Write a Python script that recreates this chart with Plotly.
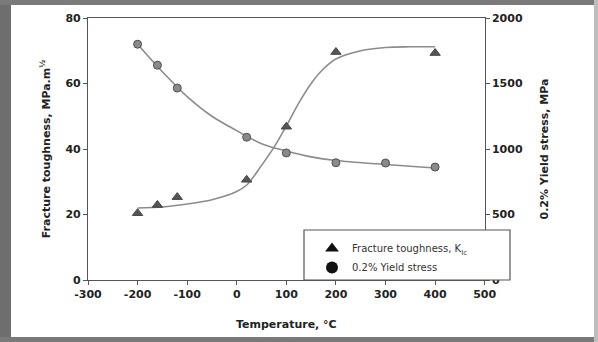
"""
Fracture toughness and 0.2% yield stress versus temperature.
"""

import plotly.graph_objects as go
from plotly.subplots import make_subplots

# Measured points
temp_pts = [-200, -160, -120, 20, 100, 200, 400]
toughness_pts = [20.4, 22.9, 25.3, 30.6, 46.8, 69.6, 69.3]

yield_temp_pts = [-200, -160, -120, 20, 100, 200, 300, 400]
yield_pts = [1800, 1640, 1465, 1090, 970, 895, 893, 862]

# Fitted curves
fit_temp = [-200, -150, -100, -50, 0, 20, 50, 75, 100, 125, 150, 175, 200, 250, 300, 350, 400]
toughness_fit = [22, 22.3, 23.2, 24.5, 27, 29, 35, 40.5, 47, 54, 60, 64.5, 67.5, 70, 71, 71.2, 71.2]

yield_fit_temp = [-200, -150, -100, -50, 0, 50, 100, 150, 200, 300, 400]
yield_fit = [1800, 1590, 1400, 1250, 1140, 1040, 985, 940, 912, 882, 855]

x_ticks = [-300, -200, -100, 0, 100, 200, 300, 400, 500]
x_ticktext = ["-300", "-200", "-100", "0", "100", "200", "300", "400", "500"]

FONT = "DejaVu Sans"
CURVE = "#8c8c8c"

fig = make_subplots(specs=[[{"secondary_y": True}]])

# Courbes lissées
fig.add_trace(
    go.Scatter(x=fit_temp, y=toughness_fit, mode="lines", line=dict(color=CURVE, width=1.6, shape="spline"),
               showlegend=False, hoverinfo="skip"),
    secondary_y=False
)
fig.add_trace(
    go.Scatter(x=yield_fit_temp, y=yield_fit, mode="lines", line=dict(color=CURVE, width=1.6, shape="spline"),
               showlegend=False, hoverinfo="skip"),
    secondary_y=True
)

# Points mesurés
fig.add_trace(
    go.Scatter(x=temp_pts, y=toughness_pts, mode="markers", showlegend=False,
               marker=dict(symbol="triangle-up", size=9, color="#555555", line=dict(color="#444444", width=1))),
    secondary_y=False
)
fig.add_trace(
    go.Scatter(x=yield_temp_pts, y=yield_pts, mode="markers", showlegend=False,
               marker=dict(symbol="circle", size=8, color="#8a8a8a", line=dict(color="#505050", width=1))),
    secondary_y=True
)

# Entrées de légende (marqueurs noirs)
fig.add_trace(
    go.Scatter(x=[None], y=[None], mode="markers", name="Fracture toughness, K<sub>Ic</sub>",
               marker=dict(symbol="triangle-up", size=8, color="#111111")),
    secondary_y=False
)
fig.add_trace(
    go.Scatter(x=[None], y=[None], mode="markers", name="0.2% Yield stress",
               marker=dict(symbol="circle", size=8, color="#111111")),
    secondary_y=False
)

# Border strips around the page (paper coords relative to plot area 88..510 x 18..280)
def px_x(p):
    return (p - 88) / 422

def px_y(p):
    return (280 - p) / 262

border = "#7a7a7a"
shapes = [
    dict(type="rect", xref="paper", yref="paper", x0=px_x(0), x1=px_x(11), y0=px_y(342), y1=px_y(0),
         fillcolor="#6e6e6e", line_width=0, layer="below"),
    dict(type="rect", xref="paper", yref="paper", x0=px_x(0), x1=px_x(598), y0=px_y(5), y1=px_y(0),
         fillcolor=border, line_width=0, layer="below"),
    dict(type="rect", xref="paper", yref="paper", x0=px_x(0), x1=px_x(598), y0=px_y(342), y1=px_y(337),
         fillcolor=border, line_width=0, layer="below"),
    dict(type="rect", xref="paper", yref="paper", x0=px_x(594), x1=px_x(598), y0=px_y(342), y1=px_y(0),
         fillcolor="#bdbdbd", line_width=0, layer="below"),
    # cadre de la légende
    dict(type="rect", xref="paper", yref="paper", x0=px_x(304), x1=1, y0=0, y1=px_y(230),
         fillcolor="white", line=dict(color="#555555", width=1.2), layer="above"),
]

fig.update_layout(
    width=598, height=342,
    margin=dict(l=88, r=88, t=18, b=62),
    paper_bgcolor="white", plot_bgcolor="white",
    font=dict(family=FONT, size=10, color="#222222"),
    shapes=shapes,
    legend=dict(
        x=px_x(312), y=px_y(234), xanchor="left", yanchor="top",
        bgcolor="rgba(0,0,0,0)", borderwidth=0,
        font=dict(size=10, color="#333333"),
        itemsizing="constant", tracegroupgap=0
    )
)

axis_common = dict(
    showgrid=False, zeroline=False, showline=True, linecolor="#555555", linewidth=1.2,
    ticks="outside", ticklen=4, tickcolor="#555555", automargin=False,
    tickfont=dict(family=FONT, size=11, weight="bold", color="#222222"),
)

fig.update_xaxes(
    range=[-300, 500], tickvals=x_ticks, ticktext=x_ticktext, mirror=True,
    title=dict(text="Temperature, °C", font=dict(size=11, weight="bold"), standoff=20),
    **axis_common
)
fig.update_yaxes(
    range=[0, 80], dtick=20, mirror=False,
    title=dict(text="Fracture toughness, MPa.m<sup>½</sup>", font=dict(size=11, weight="bold"), standoff=12),
    secondary_y=False, **axis_common
)
fig.update_yaxes(
    range=[0, 2000], dtick=500,
    title=dict(text="0.2% Yield stress, MPa", font=dict(size=11, weight="bold"), standoff=18),
    secondary_y=True, **axis_common
)

fig.write_html("out.html", config={"displayModeBar": False},
               post_script="document.body.style.margin='0';")
